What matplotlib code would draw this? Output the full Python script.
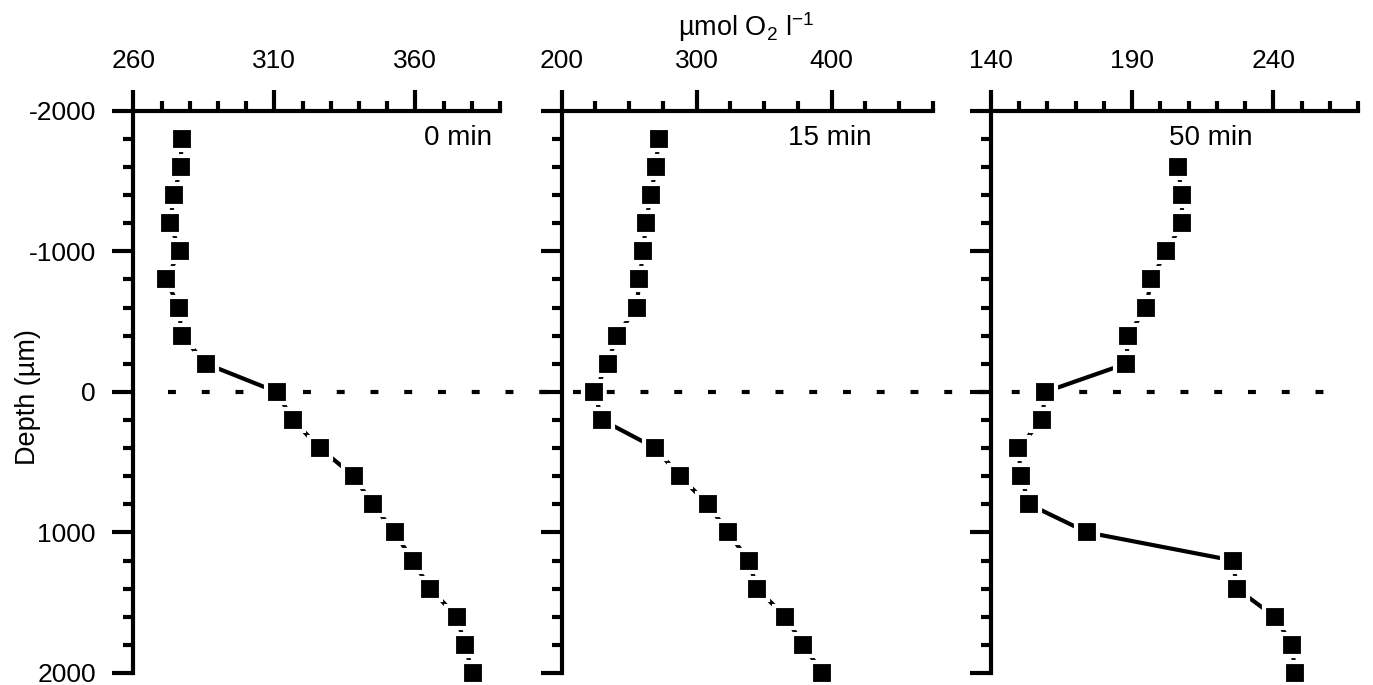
import matplotlib.pyplot as plt
import matplotlib.transforms as mtransforms
from matplotlib.lines import Line2D
import numpy as np

plt.rcParams['font.family'] = ['Liberation Sans', 'DejaVu Sans']
plt.rcParams['mathtext.fontset'] = 'custom'
plt.rcParams['mathtext.rm'] = 'Liberation Sans'
plt.rcParams['axes.unicode_minus'] = False

# depth in um, O2 in umol/l
depth = [-1800, -1600, -1400, -1200, -1000, -800, -600, -400, -200, 0,
         200, 400, 600, 800, 1000, 1200, 1400, 1600, 1800, 2000]
depth_50 = depth[1:]

o2_0min = [277.1, 276.8, 274.4, 273.0, 276.5, 271.6, 276.2, 277.1, 285.8, 310.8,
           316.6, 326.1, 338.2, 344.8, 352.7, 359.0, 365.3, 374.7, 377.5, 380.3]
o2_15min = [271.9, 269.6, 266.1, 262.2, 260.5, 257.5, 255.6, 240.7, 234.1, 224.2,
            229.9, 269.4, 287.4, 308.4, 323.2, 338.5, 344.7, 365.7, 378.8, 393.1]
o2_50min = [206.3, 207.5, 207.8, 202.1, 196.8, 194.9, 188.6, 187.8, 159.3,
            158.0, 149.7, 150.6, 153.5, 174.1, 225.8, 227.0, 240.6, 246.6, 247.7]

titles = ['0 min', '15 min', '50 min']
xlims = [(260, 390), (200, 475), (140, 270)]
xmajor = [50, 100, 50]
xminor = [10, 25, 10]
title_pos = [(0.978, 'right'), (0.722, 'center'), (0.600, 'center')]

W, H = 1373, 685
fig = plt.figure(figsize=(13.73, 6.85), dpi=100)
lefts = [133.3, 561.7, 991]
widths = [366.7, 371.3, 367]
top, bottom = 110.7, 673

axes = []
for i, data in enumerate([o2_0min, o2_15min, o2_50min]):
    ax = fig.add_axes([lefts[i] / W, 1 - bottom / H, widths[i] / W, (bottom - top) / H])
    dd = depth_50 if i == 2 else depth
    ax.plot(data, dd, '-', color='k', lw=3, marker='s', ms=15.5,
            mfc='k', mec='white', mew=3, zorder=3, clip_on=False)
    lo, hi = xlims[i]
    ax.set_xticks(np.arange(lo, hi + 0.1, xmajor[i]))
    ax.set_xticks(np.arange(lo, hi + 0.1, xminor[i]), minor=True)
    ax.set_xlim(lo, hi)
    ax.set_yticks(np.arange(-2000, 2001, 1000))
    ax.set_yticks(np.arange(-2000, 2001, 200), minor=True)
    ax.set_ylim(2000, -2000)
    ax.xaxis.tick_top()
    ax.spines['right'].set_visible(False)
    ax.spines['bottom'].set_visible(False)
    ax.spines['top'].set_linewidth(3)
    ax.spines['left'].set_linewidth(3)
    ax.tick_params(which='major', direction='out', length=15, width=3,
                   labelsize=19, pad=12)
    ax.tick_params(which='minor', direction='out', length=7.5, width=3)
    if i > 0:
        ax.tick_params(axis='y', labelleft=False)
    ax.patch.set_visible(False)
    x_t, ha = title_pos[i]
    ax.text(x_t, 0.952, titles[i], transform=ax.transAxes, ha=ha, va='center',
            fontsize=20)
    axes.append(ax)

# dotted line at the sediment surface across all panels
trans = mtransforms.blended_transform_factory(fig.transFigure, axes[0].transData)
zero = Line2D([168 / W, 1342 / W], [0, 0], transform=trans, color='k', lw=3,
              linestyle=(0, (1.9, 6.2)), zorder=1)
fig.add_artist(zero)

fig.text(746 / W, 1 - 36 / H, r'µmol O$_2$ l$^{-1}$', ha='center', va='baseline',
         fontsize=19.5)
fig.text(28 / W, 1 - 397 / H, 'Depth (µm)', ha='center', va='center',
         rotation=90, fontsize=19.5)

fig.savefig('out.png', dpi=100)
